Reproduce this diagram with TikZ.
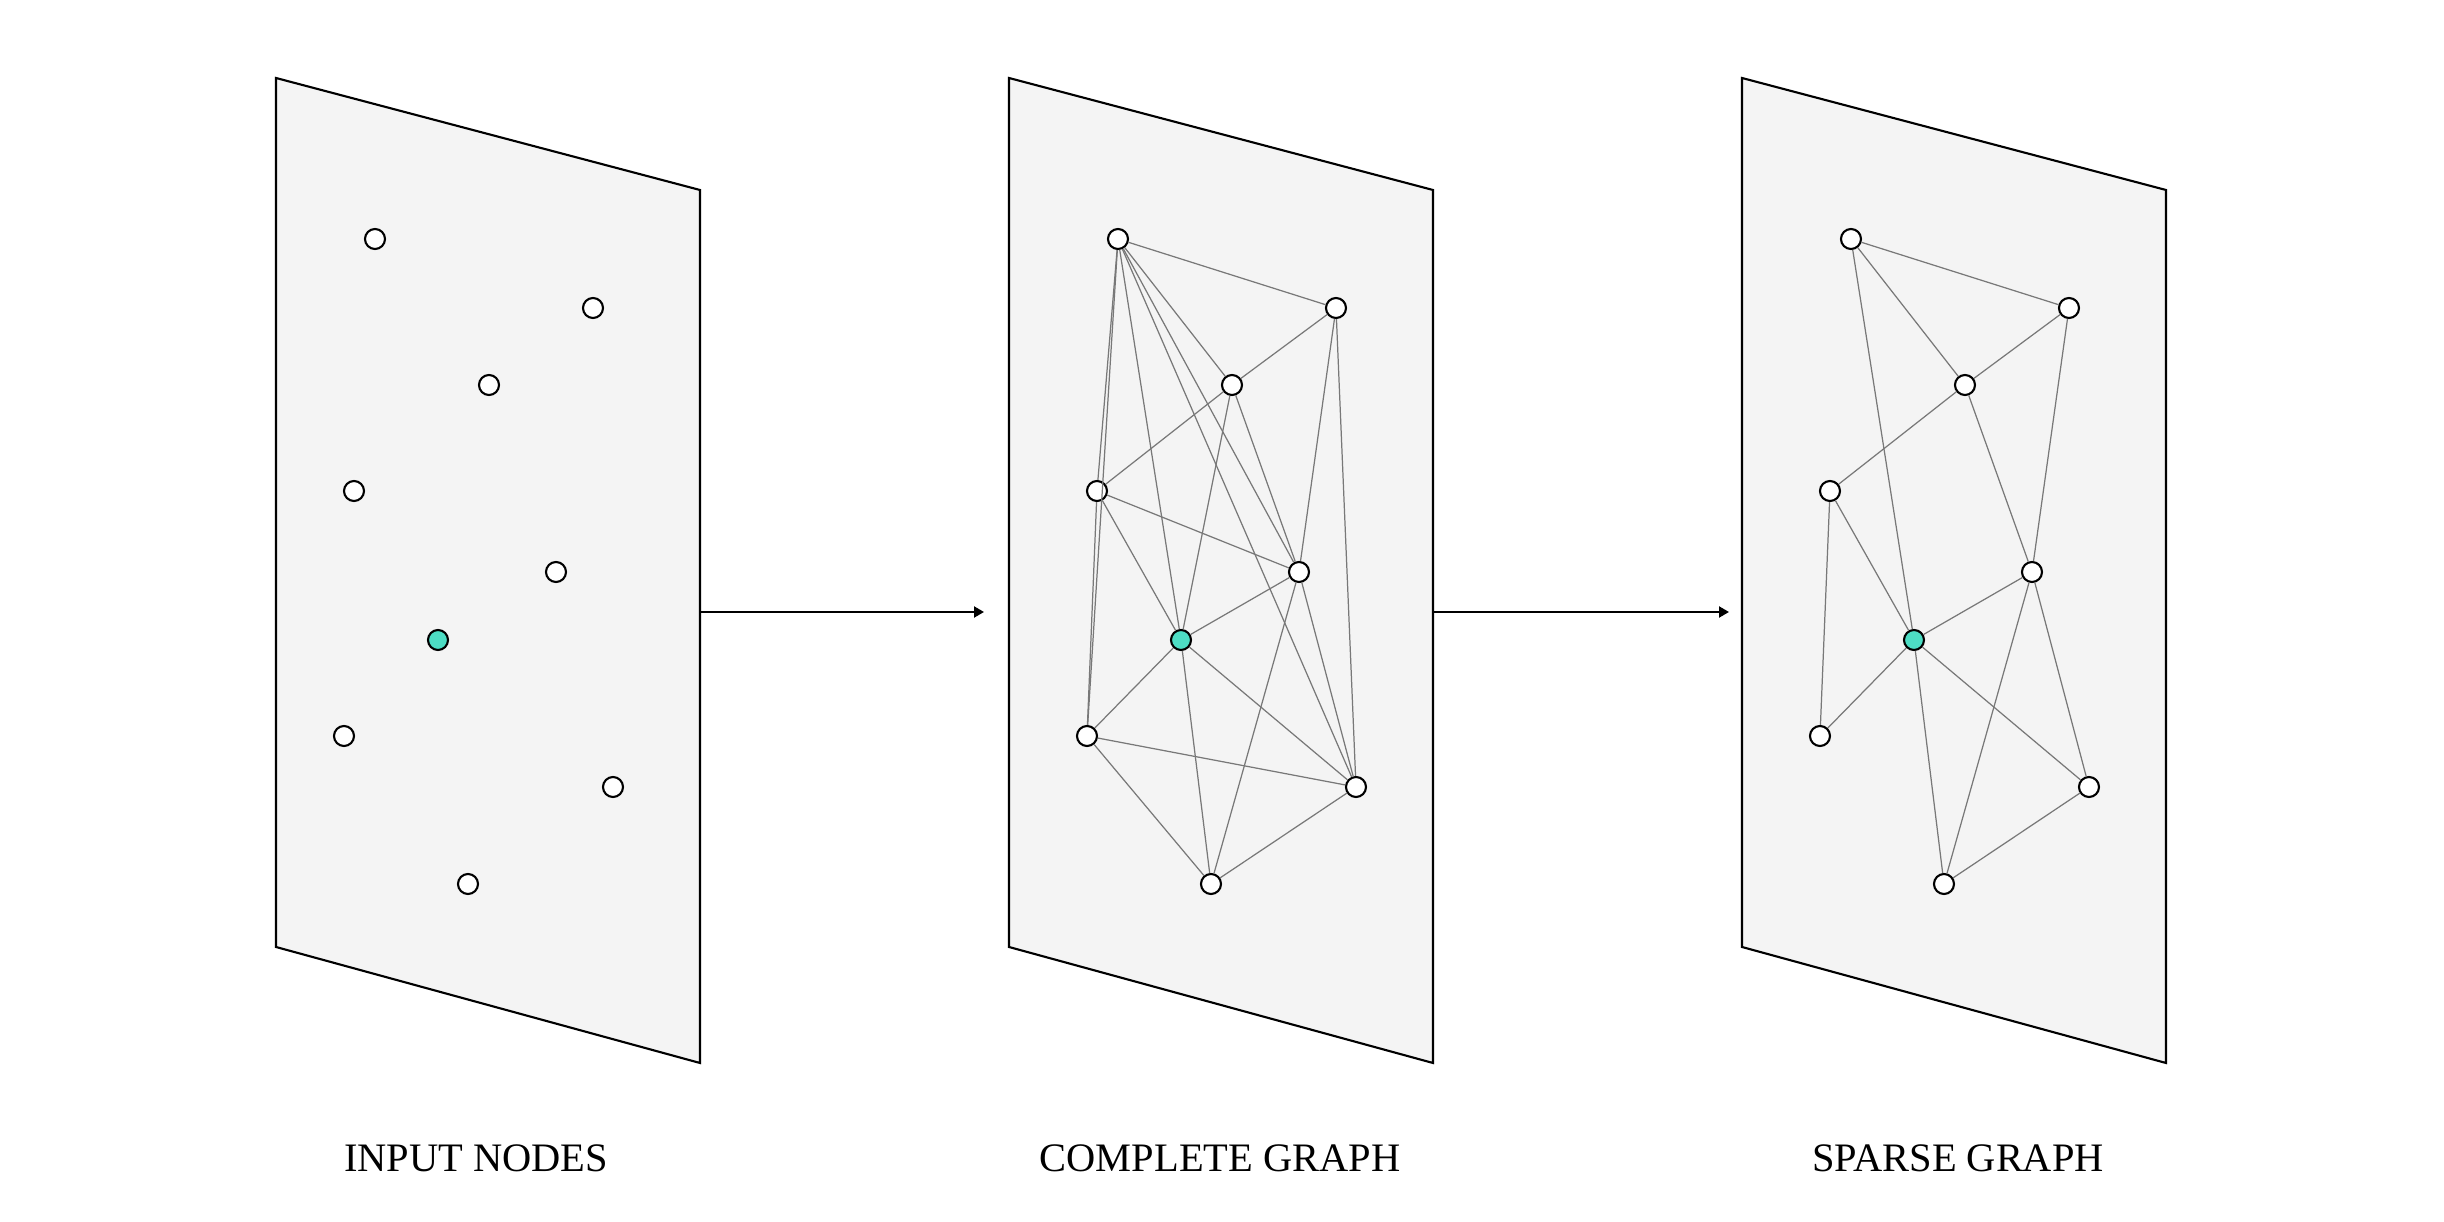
\documentclass[tikz,border=0pt]{standalone}
\usepackage{fontspec}
\setmainfont{Liberation Serif}
\usetikzlibrary{arrows.meta}
\definecolor{sheet}{RGB}{244,244,244}
\definecolor{linkgray}{RGB}{120,120,120}
\definecolor{keynode}{RGB}{77,221,196}

\begin{document}
\begin{tikzpicture}[x=0.01cm, y=-0.01cm,
  pt/.style={circle, draw=black, fill=white, line width=0.6pt, minimum size=0.2cm, inner sep=0pt},
  link/.style={draw=linkgray, line width=0.35pt},
  caption/.style={anchor=base, font=\fontsize{11.5}{14}\selectfont}]
\useasboundingbox (0,0) rectangle (2444,1222);

\def\w{424};
\def\ytl{78};
\def\ytr{190};
\def\ybr{1063};
\def\ybl{947};
\def\yarr{612};

% the three sheets
\foreach \xl in {276,1009,1742}
  \filldraw[fill=sheet, draw=black, line width=0.6pt] (\xl,\ytl) -- ({\xl+\w},\ytr) -- ({\xl+\w},\ybr) -- (\xl,\ybl) -- cycle;

% same point set on every sheet
\foreach \g/\dx in {in/-743, co/0, sp/733}
  \foreach \n/\x/\y/\c in {a/1118/239/white, b/1336/308/white, c/1232/385/white, d/1097/491/white, e/1299/572/white, f/1181/640/keynode, g/1087/736/white, h/1356/787/white, i/1211/884/white}
    \node[pt, fill=\c] (\g\n) at ({\x+\dx},\y) {};

% complete graph
\foreach \u/\v in {a/b, a/c, a/d, a/e, a/f, a/g, a/h, b/c, b/e, b/h, c/d, c/e, c/f, d/e, d/f, d/g, e/f, e/h, e/i, f/g, f/h, f/i, g/h, g/i, h/i}
  \draw[link] (co\u) -- (co\v);

% sparse graph
\foreach \u/\v in {a/b, a/c, a/f, b/c, b/e, c/d, c/e, d/f, d/g, e/f, e/h, e/i, f/g, f/h, f/i, h/i}
  \draw[link] (sp\u) -- (sp\v);

\coordinate (from1) at (276+\w,\yarr);
\coordinate (to1) at (984,\yarr);
\coordinate (from2) at (1009+\w,\yarr);
\coordinate (to2) at (1729,\yarr);

\draw[-{Triangle[length=0.1cm, width=0.11cm]}, line width=0.6pt] (from1) -- (to1);
\draw[-{Triangle[length=0.1cm, width=0.11cm]}, line width=0.6pt] (from2) -- (to2);

\node[caption] (inlabel) at (476,1172) {INPUT NODES};
\node[caption] (colabel) at (1220,1172) {COMPLETE GRAPH};
\node[caption] (splabel) at (1958,1172) {SPARSE GRAPH};

\end{tikzpicture}
\end{document}
